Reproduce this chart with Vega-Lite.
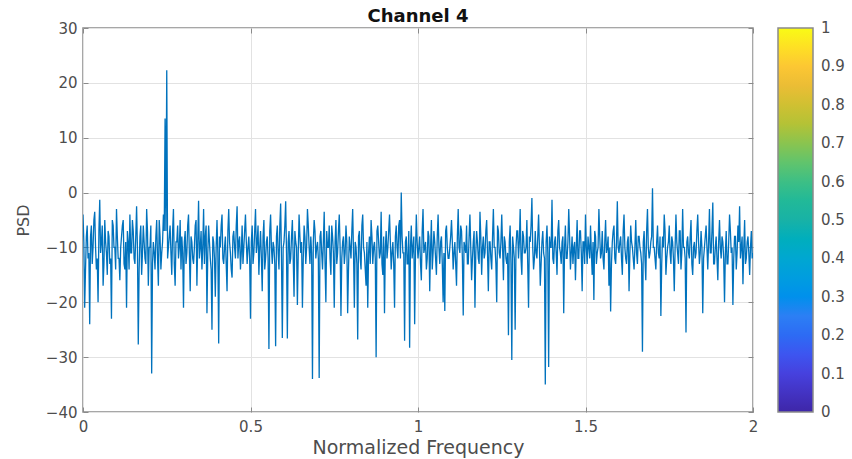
{
"$schema": "https://vega.github.io/schema/vega-lite/v6.json",
"autosize": {"type": "none"},
"padding": {"left": 83, "top": 28, "right": 99, "bottom": 47},
"width": 670,
"height": 384,
"background": "white",
"title": {"text": "Channel 4", "font": "DejaVu Sans", "fontSize": 18, "fontWeight": "bold", "color": "#111111", "anchor": "middle", "offset": -5},
"config": {
  "view": {"stroke": "#8a8a8a", "strokeWidth": 1.5},
  "axis": {"labelFont": "DejaVu Sans", "labelFontSize": 15, "labelColor": "#4d4d4d", "titleFont": "DejaVu Sans", "titleFontWeight": "normal", "titleColor": "#4d4d4d", "gridColor": "#e2e2e2", "gridWidth": 1, "domain": false, "tickColor": "#8a8a8a", "tickSize": -5, "labelFlush": false}
},
"resolve": {"axis": {"x": "independent", "y": "independent"}},
"datasets": {
  "psd": [
{"f":0,"p":-4},{"f":0.0025,"p":-9},{"f":0.005,"p":-21},{"f":0.0075,"p":-14},{"f":0.01,"p":-8},{"f":0.0125,"p":-6},{"f":0.015,"p":-12},{"f":0.0175,"p":-11},{"f":0.02,"p":-24},{"f":0.0225,"p":-8},{"f":0.025,"p":-6},{"f":0.0275,"p":-13},{"f":0.03,"p":-10},{"f":0.0325,"p":-5},{"f":0.035,"p":-3.5},{"f":0.0375,"p":-10},{"f":0.04,"p":-14},{"f":0.0425,"p":-12},{"f":0.045,"p":-20},{"f":0.0475,"p":-7},
{"f":0.05,"p":-1.3},{"f":0.0525,"p":-11},{"f":0.055,"p":-9},{"f":0.0575,"p":-6},{"f":0.06,"p":-17},{"f":0.0625,"p":-13},{"f":0.065,"p":-5},{"f":0.0675,"p":-9},{"f":0.07,"p":-11},{"f":0.0725,"p":-15},{"f":0.075,"p":-7},{"f":0.0775,"p":-8},{"f":0.08,"p":-13},{"f":0.0825,"p":-12},{"f":0.085,"p":-23},{"f":0.0875,"p":-5},{"f":0.09,"p":-6},{"f":0.0925,"p":-10},{"f":0.095,"p":-10},{"f":0.0975,"p":-14},
{"f":0.1,"p":-3},{"f":0.1025,"p":-8},{"f":0.105,"p":-12},{"f":0.1075,"p":-12},{"f":0.11,"p":-16},{"f":0.1125,"p":-10},{"f":0.115,"p":-8},{"f":0.1175,"p":-6},{"f":0.12,"p":-5},{"f":0.1225,"p":-13},{"f":0.125,"p":-14},{"f":0.1275,"p":-9},{"f":0.13,"p":-21},{"f":0.1325,"p":-7},{"f":0.135,"p":-9},{"f":0.1375,"p":-14},{"f":0.14,"p":-4},{"f":0.1425,"p":-11},{"f":0.145,"p":-11},{"f":0.1475,"p":-5},
{"f":0.15,"p":-7},{"f":0.1525,"p":-12},{"f":0.155,"p":-13},{"f":0.1575,"p":-8},{"f":0.16,"p":-2.5},{"f":0.1625,"p":-10},{"f":0.165,"p":-27.7},{"f":0.1675,"p":-14},{"f":0.17,"p":-8},{"f":0.1725,"p":-6},{"f":0.175,"p":-15},{"f":0.1775,"p":-11},{"f":0.18,"p":-6},{"f":0.1825,"p":-9},{"f":0.185,"p":-12},{"f":0.1875,"p":-13},{"f":0.19,"p":-3},{"f":0.1925,"p":-7},{"f":0.195,"p":-17},{"f":0.1975,"p":-10},
{"f":0.2,"p":-10},{"f":0.2025,"p":-6},{"f":0.205,"p":-33},{"f":0.2075,"p":-13},{"f":0.21,"p":-9},{"f":0.2125,"p":-11},{"f":0.215,"p":-14},{"f":0.2175,"p":-8},{"f":0.22,"p":-5},{"f":0.2225,"p":-12},{"f":0.225,"p":-17},{"f":0.2275,"p":-5},{"f":0.23,"p":-8},{"f":0.2325,"p":-14},{"f":0.235,"p":-11},{"f":0.2375,"p":-9},{"f":0.24,"p":-4},{"f":0.2425,"p":-7},{"f":0.245,"p":13.5},{"f":0.2475,"p":-7},
{"f":0.25,"p":22.3},{"f":0.2525,"p":-12},{"f":0.255,"p":-10},{"f":0.2575,"p":-8},{"f":0.26,"p":-6},{"f":0.2625,"p":-11},{"f":0.265,"p":-15},{"f":0.2675,"p":-7},{"f":0.27,"p":-3},{"f":0.2725,"p":-13},{"f":0.275,"p":-17},{"f":0.2775,"p":-9},{"f":0.28,"p":-9},{"f":0.2825,"p":-6},{"f":0.285,"p":-12},{"f":0.2875,"p":-10},{"f":0.29,"p":-5},{"f":0.2925,"p":-14},{"f":0.295,"p":-8},{"f":0.2975,"p":-11},
{"f":0.3,"p":-21},{"f":0.3025,"p":-9},{"f":0.305,"p":-7},{"f":0.3075,"p":-13},{"f":0.31,"p":-11},{"f":0.3125,"p":-6},{"f":0.315,"p":-4},{"f":0.3175,"p":-11},{"f":0.32,"p":-18},{"f":0.3225,"p":-8},{"f":0.325,"p":-9},{"f":0.3275,"p":-12},{"f":0.33,"p":-13},{"f":0.3325,"p":-10},{"f":0.335,"p":-6},{"f":0.3375,"p":-5},{"f":0.34,"p":-17},{"f":0.3425,"p":-9},{"f":0.345,"p":-1.5},{"f":0.3475,"p":-12},
{"f":0.35,"p":-10},{"f":0.3525,"p":-7},{"f":0.355,"p":-14},{"f":0.3575,"p":-10},{"f":0.36,"p":-3},{"f":0.3625,"p":-13},{"f":0.365,"p":-8},{"f":0.3675,"p":-6},{"f":0.37,"p":-22},{"f":0.3725,"p":-11},{"f":0.375,"p":-6},{"f":0.3775,"p":-9},{"f":0.38,"p":-12},{"f":0.3825,"p":-14},{"f":0.385,"p":-25},{"f":0.3875,"p":-8},{"f":0.39,"p":-9},{"f":0.3925,"p":-12},{"f":0.395,"p":-19},{"f":0.3975,"p":-10},
{"f":0.4,"p":-5},{"f":0.4025,"p":-11},{"f":0.405,"p":-27.5},{"f":0.4075,"p":-8},{"f":0.41,"p":-10},{"f":0.4125,"p":-6},{"f":0.415,"p":-4},{"f":0.4175,"p":-12},{"f":0.42,"p":-13},{"f":0.4225,"p":-10},{"f":0.425,"p":-8},{"f":0.4275,"p":-13},{"f":0.43,"p":-18},{"f":0.4325,"p":-7},{"f":0.435,"p":-3},{"f":0.4375,"p":-9},{"f":0.44,"p":-11},{"f":0.4425,"p":-14},{"f":0.445,"p":-15.5},{"f":0.4475,"p":-8},
{"f":0.45,"p":-7},{"f":0.4525,"p":-10},{"f":0.455,"p":-12},{"f":0.4575,"p":-6},{"f":0.46,"p":-2.5},{"f":0.4625,"p":-12},{"f":0.465,"p":-9},{"f":0.4675,"p":-8},{"f":0.47,"p":-14},{"f":0.4725,"p":-11},{"f":0.475,"p":-6},{"f":0.4775,"p":-13},{"f":0.48,"p":-10},{"f":0.4825,"p":-7},{"f":0.485,"p":-4},{"f":0.4875,"p":-9},{"f":0.49,"p":-13},{"f":0.4925,"p":-10},{"f":0.495,"p":-8},{"f":0.4975,"p":-12},
{"f":0.5,"p":-23},{"f":0.5025,"p":-9},{"f":0.505,"p":-6},{"f":0.5075,"p":-13},{"f":0.51,"p":-11},{"f":0.5125,"p":-7},{"f":0.515,"p":-3},{"f":0.5175,"p":-11},{"f":0.52,"p":-9},{"f":0.5225,"p":-6},{"f":0.525,"p":-15},{"f":0.5275,"p":-10},{"f":0.53,"p":-7},{"f":0.5325,"p":-12},{"f":0.535,"p":-18},{"f":0.5375,"p":-8},{"f":0.54,"p":-5},{"f":0.5425,"p":-14},{"f":0.545,"p":-12},{"f":0.5475,"p":-9},
{"f":0.55,"p":-8},{"f":0.5525,"p":-12},{"f":0.555,"p":-28.5},{"f":0.5575,"p":-7},{"f":0.56,"p":-4},{"f":0.5625,"p":-10},{"f":0.565,"p":-13},{"f":0.5675,"p":-9},{"f":0.57,"p":-10},{"f":0.5725,"p":-13},{"f":0.575,"p":-28},{"f":0.5775,"p":-8},{"f":0.58,"p":-6},{"f":0.5825,"p":-11},{"f":0.585,"p":-14},{"f":0.5875,"p":-6},{"f":0.59,"p":-2},{"f":0.5925,"p":-12},{"f":0.595,"p":-26.5},{"f":0.5975,"p":-10},
{"f":0.6,"p":-9},{"f":0.6025,"p":-6},{"f":0.605,"p":-1.6},{"f":0.6075,"p":-11},{"f":0.61,"p":-26.6},{"f":0.6125,"p":-9},{"f":0.615,"p":-7},{"f":0.6175,"p":-13},{"f":0.62,"p":-12},{"f":0.6225,"p":-8},{"f":0.625,"p":-5},{"f":0.6275,"p":-12},{"f":0.63,"p":-19},{"f":0.6325,"p":-7},{"f":0.635,"p":-9},{"f":0.6375,"p":-10},{"f":0.64,"p":-20.5},{"f":0.6425,"p":-11},{"f":0.645,"p":-4},{"f":0.6475,"p":-8},
{"f":0.65,"p":-11},{"f":0.6525,"p":-9},{"f":0.655,"p":-21},{"f":0.6575,"p":-12},{"f":0.66,"p":-6},{"f":0.6625,"p":-8},{"f":0.665,"p":-13},{"f":0.6675,"p":-10},{"f":0.67,"p":-3},{"f":0.6725,"p":-6},{"f":0.675,"p":-10},{"f":0.6775,"p":-13},{"f":0.68,"p":-8},{"f":0.6825,"p":-11},{"f":0.685,"p":-34},{"f":0.6875,"p":-9},{"f":0.69,"p":-5},{"f":0.6925,"p":-7},{"f":0.695,"p":-12},{"f":0.6975,"p":-10},
{"f":0.7,"p":-9},{"f":0.7025,"p":-12},{"f":0.705,"p":-33.8},{"f":0.7075,"p":-8},{"f":0.71,"p":-7},{"f":0.7125,"p":-11},{"f":0.715,"p":-14},{"f":0.7175,"p":-9},{"f":0.72,"p":-3.5},{"f":0.7225,"p":-13},{"f":0.725,"p":-20},{"f":0.7275,"p":-7},{"f":0.73,"p":-10},{"f":0.7325,"p":-10},{"f":0.735,"p":-6},{"f":0.7375,"p":-12},{"f":0.74,"p":-15},{"f":0.7425,"p":-6},{"f":0.745,"p":-8},{"f":0.7475,"p":-11},
{"f":0.75,"p":-21},{"f":0.7525,"p":-9},{"f":0.755,"p":-5},{"f":0.7575,"p":-13},{"f":0.76,"p":-11},{"f":0.7625,"p":-7},{"f":0.765,"p":-4},{"f":0.7675,"p":-10},{"f":0.77,"p":-22.5},{"f":0.7725,"p":-12},{"f":0.775,"p":-9},{"f":0.7775,"p":-8},{"f":0.78,"p":-13},{"f":0.7825,"p":-11},{"f":0.785,"p":-6},{"f":0.7875,"p":-9},{"f":0.79,"p":-22},{"f":0.7925,"p":-14},{"f":0.795,"p":-8},{"f":0.7975,"p":-10},
{"f":0.8,"p":-12},{"f":0.8025,"p":-7},{"f":0.805,"p":-3},{"f":0.8075,"p":-11},{"f":0.81,"p":-21},{"f":0.8125,"p":-9},{"f":0.815,"p":-10},{"f":0.8175,"p":-13},{"f":0.82,"p":-26.8},{"f":0.8225,"p":-8},{"f":0.825,"p":-7},{"f":0.8275,"p":-12},{"f":0.83,"p":-14},{"f":0.8325,"p":-6},{"f":0.835,"p":-4},{"f":0.8375,"p":-10},{"f":0.84,"p":-11},{"f":0.8425,"p":-14},{"f":0.845,"p":-17},{"f":0.8475,"p":-9},
{"f":0.85,"p":-21},{"f":0.8525,"p":-11},{"f":0.855,"p":-8},{"f":0.8575,"p":-13},{"f":0.86,"p":-5},{"f":0.8625,"p":-8},{"f":0.865,"p":-13},{"f":0.8675,"p":-10},{"f":0.87,"p":-9},{"f":0.8725,"p":-12},{"f":0.875,"p":-30},{"f":0.8775,"p":-7},{"f":0.88,"p":-6},{"f":0.8825,"p":-9},{"f":0.885,"p":-12},{"f":0.8875,"p":-11},{"f":0.89,"p":-3.5},{"f":0.8925,"p":-13},{"f":0.895,"p":-15},{"f":0.8975,"p":-8},
{"f":0.9,"p":-22},{"f":0.9025,"p":-10},{"f":0.905,"p":-7},{"f":0.9075,"p":-12},{"f":0.91,"p":-10},{"f":0.9125,"p":-7},{"f":0.915,"p":-4},{"f":0.9175,"p":-9},{"f":0.92,"p":-14},{"f":0.9225,"p":-11},{"f":0.925,"p":-9},{"f":0.9275,"p":-13},{"f":0.93,"p":-21},{"f":0.9325,"p":-8},{"f":0.935,"p":-6},{"f":0.9375,"p":-10},{"f":0.94,"p":-12},{"f":0.9425,"p":-6},{"f":0.945,"p":-5},{"f":0.9475,"p":-12},
{"f":0.95,"p":0},{"f":0.9525,"p":-8},{"f":0.955,"p":-11},{"f":0.9575,"p":-11},{"f":0.96,"p":-27},{"f":0.9625,"p":-9},{"f":0.965,"p":-8},{"f":0.9675,"p":-13},{"f":0.97,"p":-13},{"f":0.9725,"p":-7},{"f":0.975,"p":-28.3},{"f":0.9775,"p":-10},{"f":0.98,"p":-6},{"f":0.9825,"p":-12},{"f":0.985,"p":-10},{"f":0.9875,"p":-8},{"f":0.99,"p":-24},{"f":0.9925,"p":-11},{"f":0.995,"p":-4},{"f":0.9975,"p":-9},
{"f":1,"p":-12},{"f":1.0025,"p":-10},{"f":1.005,"p":-8},{"f":1.0075,"p":-13},{"f":1.01,"p":-16},{"f":1.0125,"p":-7},{"f":1.015,"p":-3},{"f":1.0175,"p":-11},{"f":1.02,"p":-10},{"f":1.0225,"p":-9},{"f":1.025,"p":-14},{"f":1.0275,"p":-12},{"f":1.03,"p":-7},{"f":1.0325,"p":-8},{"f":1.035,"p":-18},{"f":1.0375,"p":-10},{"f":1.04,"p":-5},{"f":1.0425,"p":-14},{"f":1.045,"p":-11},{"f":1.0475,"p":-7},
{"f":1.05,"p":-9},{"f":1.0525,"p":-12},{"f":1.055,"p":-15},{"f":1.0575,"p":-8},{"f":1.06,"p":-4},{"f":1.0625,"p":-10},{"f":1.065,"p":-13},{"f":1.0675,"p":-9},{"f":1.07,"p":-8},{"f":1.0725,"p":-13},{"f":1.075,"p":-20},{"f":1.0775,"p":-11},{"f":1.08,"p":-21.6},{"f":1.0825,"p":-7},{"f":1.085,"p":-6},{"f":1.0875,"p":-10},{"f":1.09,"p":-12},{"f":1.0925,"p":-12},{"f":1.095,"p":-10},{"f":1.0975,"p":-8},
{"f":1.1,"p":-5},{"f":1.1025,"p":-9},{"f":1.105,"p":-14},{"f":1.1075,"p":-11},{"f":1.11,"p":-9},{"f":1.1125,"p":-13},{"f":1.115,"p":-17},{"f":1.1175,"p":-8},{"f":1.12,"p":-3},{"f":1.1225,"p":-10},{"f":1.125,"p":-11},{"f":1.1275,"p":-6},{"f":1.13,"p":-7},{"f":1.1325,"p":-12},{"f":1.135,"p":-22.4},{"f":1.1375,"p":-9},{"f":1.14,"p":-10},{"f":1.1425,"p":-11},{"f":1.145,"p":-6},{"f":1.1475,"p":-13},
{"f":1.15,"p":-13},{"f":1.1525,"p":-8},{"f":1.155,"p":-4},{"f":1.1575,"p":-10},{"f":1.16,"p":-16},{"f":1.1625,"p":-12},{"f":1.165,"p":-9},{"f":1.1675,"p":-7},{"f":1.17,"p":-21},{"f":1.1725,"p":-11},{"f":1.175,"p":-7},{"f":1.1775,"p":-9},{"f":1.18,"p":-12},{"f":1.1825,"p":-13},{"f":1.185,"p":-3.5},{"f":1.1875,"p":-8},{"f":1.19,"p":-15},{"f":1.1925,"p":-10},{"f":1.195,"p":-8},{"f":1.1975,"p":-12},
{"f":1.2,"p":-11},{"f":1.2025,"p":-7},{"f":1.205,"p":-5},{"f":1.2075,"p":-11},{"f":1.21,"p":-18},{"f":1.2125,"p":-9},{"f":1.215,"p":-9},{"f":1.2175,"p":-12},{"f":1.22,"p":-14},{"f":1.2225,"p":-8},{"f":1.225,"p":-3},{"f":1.2275,"p":-10},{"f":1.23,"p":-10},{"f":1.2325,"p":-13},{"f":1.235,"p":-20},{"f":1.2375,"p":-6},{"f":1.24,"p":-7},{"f":1.2425,"p":-11},{"f":1.245,"p":-12},{"f":1.2475,"p":-9},
{"f":1.25,"p":-4},{"f":1.2525,"p":-10},{"f":1.255,"p":-16},{"f":1.2575,"p":-8},{"f":1.26,"p":-9},{"f":1.2625,"p":-12},{"f":1.265,"p":-13},{"f":1.2675,"p":-11},{"f":1.27,"p":-26},{"f":1.2725,"p":-9},{"f":1.275,"p":-6},{"f":1.2775,"p":-13},{"f":1.28,"p":-30.5},{"f":1.2825,"p":-8},{"f":1.285,"p":-10},{"f":1.2875,"p":-12},{"f":1.29,"p":-25},{"f":1.2925,"p":-10},{"f":1.295,"p":-7},{"f":1.2975,"p":-7},
{"f":1.3,"p":-12},{"f":1.3025,"p":-9},{"f":1.305,"p":-3},{"f":1.3075,"p":-12},{"f":1.31,"p":-15},{"f":1.3125,"p":-7},{"f":1.315,"p":-8},{"f":1.3175,"p":-11},{"f":1.32,"p":-11},{"f":1.3225,"p":-10},{"f":1.325,"p":-5},{"f":1.3275,"p":-13},{"f":1.33,"p":-21},{"f":1.3325,"p":-8},{"f":1.335,"p":-9},{"f":1.3375,"p":-6},{"f":1.34,"p":-1},{"f":1.3425,"p":-10},{"f":1.345,"p":-14},{"f":1.3475,"p":-12},
{"f":1.35,"p":-7},{"f":1.3525,"p":-11},{"f":1.355,"p":-12},{"f":1.3575,"p":-8},{"f":1.36,"p":-4},{"f":1.3625,"p":-10},{"f":1.365,"p":-17},{"f":1.3675,"p":-13},{"f":1.37,"p":-9},{"f":1.3725,"p":-7},{"f":1.375,"p":-11},{"f":1.3775,"p":-12},{"f":1.38,"p":-35},{"f":1.3825,"p":-9},{"f":1.385,"p":-6},{"f":1.3875,"p":-11},{"f":1.39,"p":-31.8},{"f":1.3925,"p":-8},{"f":1.395,"p":-10},{"f":1.3975,"p":-10},
{"f":1.4,"p":-1.3},{"f":1.4025,"p":-12},{"f":1.405,"p":-13},{"f":1.4075,"p":-9},{"f":1.41,"p":-8},{"f":1.4125,"p":-11},{"f":1.415,"p":-15},{"f":1.4175,"p":-7},{"f":1.42,"p":-5},{"f":1.4225,"p":-10},{"f":1.425,"p":-11},{"f":1.4275,"p":-13},{"f":1.43,"p":-9},{"f":1.4325,"p":-8},{"f":1.435,"p":-22},{"f":1.4375,"p":-10},{"f":1.44,"p":-6},{"f":1.4425,"p":-12},{"f":1.445,"p":-12},{"f":1.4475,"p":-9},
{"f":1.45,"p":-3},{"f":1.4525,"p":-8},{"f":1.455,"p":-14},{"f":1.4575,"p":-11},{"f":1.46,"p":-8},{"f":1.4625,"p":-13},{"f":1.465,"p":-10},{"f":1.4675,"p":-9},{"f":1.47,"p":-16},{"f":1.4725,"p":-10},{"f":1.475,"p":-5},{"f":1.4775,"p":-12},{"f":1.48,"p":-12},{"f":1.4825,"p":-7},{"f":1.485,"p":-7},{"f":1.4875,"p":-11},{"f":1.49,"p":-18},{"f":1.4925,"p":-9},{"f":1.495,"p":-9},{"f":1.4975,"p":-13},
{"f":1.5,"p":-4},{"f":1.5025,"p":-10},{"f":1.505,"p":-13},{"f":1.5075,"p":-8},{"f":1.51,"p":-10},{"f":1.5125,"p":-12},{"f":1.515,"p":-6},{"f":1.5175,"p":-11},{"f":1.52,"p":-15},{"f":1.5225,"p":-9},{"f":1.525,"p":-19.6},{"f":1.5275,"p":-7},{"f":1.53,"p":-8},{"f":1.5325,"p":-13},{"f":1.535,"p":-11},{"f":1.5375,"p":-10},{"f":1.54,"p":-3},{"f":1.5425,"p":-8},{"f":1.545,"p":-12},{"f":1.5475,"p":-11},
{"f":1.55,"p":-7},{"f":1.5525,"p":-12},{"f":1.555,"p":-14},{"f":1.5575,"p":-9},{"f":1.56,"p":-5},{"f":1.5625,"p":-11},{"f":1.565,"p":-10},{"f":1.5675,"p":-8},{"f":1.57,"p":-17},{"f":1.5725,"p":-10},{"f":1.575,"p":-21.7},{"f":1.5775,"p":-13},{"f":1.58,"p":-9},{"f":1.5825,"p":-7},{"f":1.585,"p":-6},{"f":1.5875,"p":-12},{"f":1.59,"p":-13},{"f":1.5925,"p":-9},{"f":1.595,"p":-1.6},{"f":1.5975,"p":-10},
{"f":1.6,"p":-11},{"f":1.6025,"p":-9},{"f":1.605,"p":-8},{"f":1.6075,"p":-12},{"f":1.61,"p":-15},{"f":1.6125,"p":-7},{"f":1.615,"p":-4},{"f":1.6175,"p":-10},{"f":1.62,"p":-12},{"f":1.6225,"p":-13},{"f":1.625,"p":-9},{"f":1.6275,"p":-8},{"f":1.63,"p":-18},{"f":1.6325,"p":-11},{"f":1.635,"p":-6},{"f":1.6375,"p":-9},{"f":1.64,"p":-10},{"f":1.6425,"p":-12},{"f":1.645,"p":-14},{"f":1.6475,"p":-10},
{"f":1.65,"p":-5},{"f":1.6525,"p":-11},{"f":1.655,"p":-13},{"f":1.6575,"p":-8},{"f":1.66,"p":-8},{"f":1.6625,"p":-10},{"f":1.665,"p":-11},{"f":1.6675,"p":-13},{"f":1.67,"p":-29},{"f":1.6725,"p":-9},{"f":1.675,"p":-7},{"f":1.6775,"p":-12},{"f":1.68,"p":-16},{"f":1.6825,"p":-7},{"f":1.685,"p":-3},{"f":1.6875,"p":-10},{"f":1.69,"p":-12},{"f":1.6925,"p":-11},{"f":1.695,"p":-9},{"f":1.6975,"p":-8},
{"f":1.7,"p":0.8},{"f":1.7025,"p":-10},{"f":1.705,"p":-10},{"f":1.7075,"p":-12},{"f":1.71,"p":-14},{"f":1.7125,"p":-9},{"f":1.715,"p":-6},{"f":1.7175,"p":-11},{"f":1.72,"p":-12},{"f":1.7225,"p":-8},{"f":1.725,"p":-22.5},{"f":1.7275,"p":-13},{"f":1.73,"p":-8},{"f":1.7325,"p":-10},{"f":1.735,"p":-4},{"f":1.7375,"p":-7},{"f":1.74,"p":-15},{"f":1.7425,"p":-12},{"f":1.745,"p":-10},{"f":1.7475,"p":-9},
{"f":1.75,"p":-6},{"f":1.7525,"p":-11},{"f":1.755,"p":-13},{"f":1.7575,"p":-8},{"f":1.76,"p":-9},{"f":1.7625,"p":-12},{"f":1.765,"p":-18},{"f":1.7675,"p":-10},{"f":1.77,"p":-4},{"f":1.7725,"p":-9},{"f":1.775,"p":-11},{"f":1.7775,"p":-13},{"f":1.78,"p":-7},{"f":1.7825,"p":-7},{"f":1.785,"p":-14},{"f":1.7875,"p":-11},{"f":1.79,"p":-3},{"f":1.7925,"p":-10},{"f":1.795,"p":-10},{"f":1.7975,"p":-12},
{"f":1.8,"p":-25.5},{"f":1.8025,"p":-9},{"f":1.805,"p":-8},{"f":1.8075,"p":-11},{"f":1.81,"p":-12},{"f":1.8125,"p":-8},{"f":1.815,"p":-5},{"f":1.8175,"p":-13},{"f":1.82,"p":-15},{"f":1.8225,"p":-10},{"f":1.825,"p":-9},{"f":1.8275,"p":-12},{"f":1.83,"p":-11},{"f":1.8325,"p":-7},{"f":1.835,"p":-4},{"f":1.8375,"p":-9},{"f":1.84,"p":-13},{"f":1.8425,"p":-11},{"f":1.845,"p":-7},{"f":1.8475,"p":-10},
{"f":1.85,"p":-22},{"f":1.8525,"p":-12},{"f":1.855,"p":-10},{"f":1.8575,"p":-8},{"f":1.86,"p":-6},{"f":1.8625,"p":-10},{"f":1.865,"p":-14},{"f":1.8675,"p":-9},{"f":1.87,"p":-3},{"f":1.8725,"p":-11},{"f":1.875,"p":-11},{"f":1.8775,"p":-7},{"f":1.88,"p":-1.8},{"f":1.8825,"p":-13},{"f":1.885,"p":-13},{"f":1.8875,"p":-10},{"f":1.89,"p":-8},{"f":1.8925,"p":-12},{"f":1.895,"p":-16},{"f":1.8975,"p":-9},
{"f":1.9,"p":-5},{"f":1.9025,"p":-10},{"f":1.905,"p":-12},{"f":1.9075,"p":-8},{"f":1.91,"p":-9},{"f":1.9125,"p":-12},{"f":1.915,"p":-20},{"f":1.9175,"p":-11},{"f":1.92,"p":-7},{"f":1.9225,"p":-13},{"f":1.925,"p":-13},{"f":1.9275,"p":-9},{"f":1.93,"p":-4},{"f":1.9325,"p":-7},{"f":1.935,"p":-11},{"f":1.9375,"p":-10},{"f":1.94,"p":-20.5},{"f":1.9425,"p":-12},{"f":1.945,"p":-8},{"f":1.9475,"p":-8},
{"f":1.95,"p":-14},{"f":1.9525,"p":-11},{"f":1.955,"p":-6},{"f":1.9575,"p":-9},{"f":1.96,"p":-2.5},{"f":1.9625,"p":-12},{"f":1.965,"p":-10},{"f":1.9675,"p":-8},{"f":1.97,"p":-16.7},{"f":1.9725,"p":-10},{"f":1.975,"p":-5},{"f":1.9775,"p":-13},{"f":1.98,"p":-12},{"f":1.9825,"p":-9},{"f":1.985,"p":-8},{"f":1.9875,"p":-11},{"f":1.99,"p":-15},{"f":1.9925,"p":-10},{"f":1.995,"p":-7},{"f":1.9975,"p":-12},
{"f":2,"p":-11}
  ],
  "cbar": [{"v": 0}, {"v": 1}]
},
"layer": [
  {
    "data": {"name": "psd"},
    "mark": {"type": "line", "color": "#0072BD", "strokeWidth": 1.3, "clip": true},
    "encoding": {
      "x": {"field": "f", "type": "quantitative", "scale": {"domain": [0, 2], "nice": false, "zero": false},
        "axis": {"values": [0, 0.5, 1, 1.5, 2], "format": "~g", "labelPadding": 12, "title": "Normalized Frequency", "titleFontSize": 19, "titlePadding": 4}},
      "y": {"field": "p", "type": "quantitative", "scale": {"domain": [-40, 30], "nice": false, "zero": false},
        "axis": {"values": [-40, -30, -20, -10, 0, 10, 20, 30], "labelPadding": 11, "title": "PSD", "titleFontSize": 16, "titlePadding": 14}}
    }
  },
  {
    "data": {"name": "psd"},
    "mark": {"type": "line", "opacity": 0, "clip": true},
    "encoding": {
      "x": {"field": "f", "type": "quantitative", "axis": {"orient": "top", "values": [0, 0.5, 1, 1.5, 2], "labels": false, "grid": false, "title": null}},
      "y": {"field": "p", "type": "quantitative", "axis": {"orient": "right", "values": [-40, -30, -20, -10, 0, 10, 20, 30], "labels": false, "grid": false, "title": null}}
    }
  },
  {
    "data": {"name": "cbar"},
    "mark": {"type": "point", "opacity": 0},
    "encoding": {
      "color": {"field": "v", "type": "quantitative",
        "scale": {"domain": [0, 1], "range": ["#3E26A8", "#4748EC", "#2C7FF4", "#1BA3D8", "#18B2A6", "#4DC27A", "#B4C236", "#F9BB3A", "#F9FB15"]},
        "legend": {"orient": "none", "legendX": 695, "legendY": 0, "direction": "vertical", "title": null, "gradientLength": 384, "gradientThickness": 35, "gradientStrokeColor": "#8a8a8a", "gradientStrokeWidth": 1.5, "values": [0, 0.1, 0.2, 0.3, 0.4, 0.5, 0.6, 0.7, 0.8, 0.9, 1], "format": "~g", "labelFont": "DejaVu Sans", "labelFontSize": 15, "labelColor": "#4d4d4d", "labelOffset": 8, "labelOverlap": false,
          "encode": {"labels": {"update": {"baseline": {"value": "middle"}}}}}
      }
    }
  }
]
}
